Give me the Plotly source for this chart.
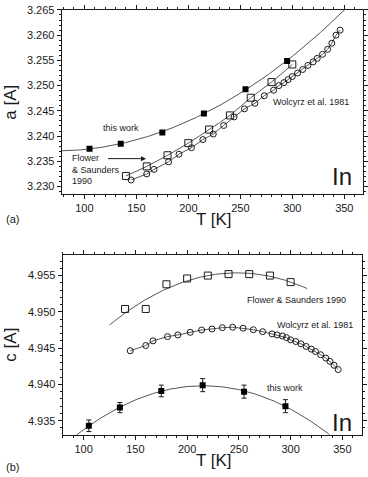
import numpy as np
import plotly.graph_objects as go

# ---------------- data ----------------
tw_T = [105, 135, 175, 215, 255, 295]
tw_a = [3.2375, 3.2385, 3.2407, 3.2445, 3.2493, 3.2549]
tw_c = [4.9343, 4.9368, 4.9391, 4.9399, 4.9390, 4.9370]
tw_c_err = [0.0008, 0.0007, 0.0008, 0.0009, 0.0009, 0.0009]

fs_T = [140, 160, 180, 200, 220, 240, 260, 280, 300]
fs_a = [3.2321, 3.2340, 3.2362, 3.2386, 3.2413, 3.2441, 3.2476, 3.2507, 3.2542]
fs_c = [4.9504, 4.9504, 4.9538, 4.9546, 4.9550, 4.9552, 4.9552, 4.9550, 4.9541]

wo_T = [145, 160, 167, 181, 191, 203, 214, 224, 234, 244, 254, 264, 273, 282,
        287, 292, 296, 300, 305, 310, 315, 320, 324, 329, 334, 338, 342, 346]
wo_a = [3.2313, 3.2325, 3.2334, 3.2349, 3.2364, 3.2377, 3.2393, 3.2404, 3.2421,
        3.2438, 3.2454, 3.2465, 3.2480, 3.2491, 3.2500, 3.2506, 3.2512, 3.2518,
        3.2525, 3.2532, 3.2540, 3.2547, 3.2554, 3.2562, 3.2572, 3.2584, 3.2600, 3.2610]
wo_c = [4.94464, 4.94536, 4.94600, 4.94659, 4.94682, 4.94718, 4.94750, 4.94764,
        4.94782, 4.94788, 4.94775, 4.94754, 4.94727, 4.94696, 4.94682, 4.94668,
        4.94645, 4.94614, 4.94591, 4.94559, 4.94523, 4.94486, 4.94454, 4.94409,
        4.94363, 4.94318, 4.94264, 4.94205]

x_ticks = [100, 150, 200, 250, 300, 350]
a_ticks = [3.230, 3.235, 3.240, 3.245, 3.250, 3.255, 3.260, 3.265]
c_ticks = [4.935, 4.940, 4.945, 4.950, 4.955]

# ---------------- fits ----------------
p_tw_a = np.polyfit(tw_T, tw_a, 2)
T_fit_a = np.linspace(75, 360, 200)
p_tw_c = np.polyfit(tw_T, tw_c, 2)
T_fit_c = np.linspace(80, 350, 200)
p_fs_c = np.polyfit(fs_T, fs_c, 2)
T_fit_fs = np.linspace(125, 316, 120)

INK = "#1a1a1a"
LINE = "#555555"
FONT = "Liberation Sans, Arial, sans-serif"

fig = go.Figure()

# ---- panel (a) ----
fig.add_trace(go.Scatter(x=T_fit_a, y=np.polyval(p_tw_a, T_fit_a), mode="lines",
                         line=dict(color=LINE, width=1), xaxis="x", yaxis="y", showlegend=False))
fig.add_trace(go.Scatter(x=fs_T, y=fs_a, mode="lines+markers", line=dict(color=LINE, width=1, shape="spline"),
                         marker=dict(symbol="square-open", size=7, color=INK, line=dict(width=1)),
                         xaxis="x", yaxis="y", showlegend=False))
fig.add_trace(go.Scatter(x=wo_T, y=wo_a, mode="lines+markers", line=dict(color=LINE, width=1),
                         marker=dict(symbol="circle-open", size=6, color=INK, line=dict(width=1)),
                         xaxis="x", yaxis="y", showlegend=False))
fig.add_trace(go.Scatter(x=tw_T, y=tw_a, mode="markers",
                         marker=dict(symbol="square", size=6, color="black"),
                         xaxis="x", yaxis="y", showlegend=False))

# ---- panel (b) ----
fig.add_trace(go.Scatter(x=T_fit_c, y=np.polyval(p_tw_c, T_fit_c), mode="lines",
                         line=dict(color=LINE, width=1), xaxis="x2", yaxis="y2", showlegend=False))
fig.add_trace(go.Scatter(x=T_fit_fs, y=np.polyval(p_fs_c, T_fit_fs), mode="lines",
                         line=dict(color=LINE, width=1), xaxis="x2", yaxis="y2", showlegend=False))
fig.add_trace(go.Scatter(x=fs_T, y=fs_c, mode="markers",
                         marker=dict(symbol="square-open", size=7, color=INK, line=dict(width=1)),
                         xaxis="x2", yaxis="y2", showlegend=False))
fig.add_trace(go.Scatter(x=wo_T, y=wo_c, mode="lines+markers", line=dict(color=LINE, width=1),
                         marker=dict(symbol="circle-open", size=6, color=INK, line=dict(width=1)),
                         xaxis="x2", yaxis="y2", showlegend=False))
fig.add_trace(go.Scatter(x=tw_T, y=tw_c, mode="markers",
                         error_y=dict(type="data", array=tw_c_err, color=INK, thickness=1, width=2.5),
                         marker=dict(symbol="square", size=6, color="black"),
                         xaxis="x2", yaxis="y2", showlegend=False))

W, H = 368, 477
def px(x):
    return x / W
def py(y):
    return 1 - y / H

axis_common = dict(showline=True, linecolor=INK, linewidth=1, mirror="allticks",
                   ticks="outside", ticklen=4, tickwidth=1, tickcolor=INK,
                   showgrid=False, zeroline=False, ticklabeloverflow="allow",
                   tickfont=dict(family=FONT, size=11, color=INK))

fig.update_layout(
    width=W, height=H, margin=dict(l=0, r=0, t=0, b=0),
    paper_bgcolor="white", plot_bgcolor="white",
    xaxis=dict(domain=[px(62), px(365)], range=[78.2, 368], anchor="y",
               tickvals=x_ticks, **axis_common,
               minor=dict(ticks="outside", ticklen=2, tickcolor=INK, dtick=10)),
    yaxis=dict(domain=[py(190), py(4)], range=[3.2286, 3.265], anchor="x",
               tickvals=a_ticks, tickformat=".3f", **axis_common,
               minor=dict(ticks="outside", ticklen=2, tickcolor=INK, dtick=0.001, tick0=3.23)),
    xaxis2=dict(domain=[px(63), px(364)], range=[79.7, 369], anchor="y2",
                tickvals=x_ticks, **axis_common,
                minor=dict(ticks="outside", ticklen=2, tickcolor=INK, dtick=10)),
    yaxis2=dict(domain=[py(434.3), py(251.7)], range=[4.93305, 4.9579], anchor="x2",
                tickvals=c_ticks, tickformat=".3f", **axis_common,
                minor=dict(ticks="outside", ticklen=2, tickcolor=INK, dtick=0.001, tick0=4.935)),
)

ann = []
def txt(x, y, s, size, xref="x", yref="y", xanchor="center", align="center"):
    ann.append(dict(x=x, y=y, xref=xref, yref=yref, text=s, showarrow=False,
                    xanchor=xanchor, yanchor="middle", align=align,
                    font=dict(family=FONT, size=size, color=INK)))

# panel (a) texts
txt(135.3, 3.24161, "this work", 9)
txt(85.8, 3.23329, "Flower<br>& Saunders<br>1990", 9, xanchor="left", align="left")
txt(318.4, 3.24676, "Wolcyrz et al. 1981", 9)
txt(348, 3.23206, "In", 24)
ann.append(dict(x=159.3, y=3.23553, ax=121.3, ay=3.23553, xref="x", yref="y",
                axref="x", ayref="y", showarrow=True, arrowhead=2, arrowsize=1,
                arrowwidth=1, arrowcolor=INK, text=""))
# panel (b) texts
txt(305.9, 4.95159, "Flower & Saunders 1990", 9, xref="x2", yref="y2")
txt(323.2, 4.94818, "Wolcyrz et al. 1981", 9, xref="x2", yref="y2")
txt(295, 4.93954, "this work", 9, xref="x2", yref="y2")
txt(349.7, 4.93477, "In", 24, xref="x2", yref="y2")

# axis titles and panel labels (paper coords)
txt(px(215), py(216.5), "T [K]", 17, xref="paper", yref="paper")
txt(px(215), py(460), "T [K]", 17, xref="paper", yref="paper")
txt(px(13), py(216), "(a)", 11, xref="paper", yref="paper")
txt(px(13), py(466.5), "(b)", 11, xref="paper", yref="paper")
for yy, s in [(97, "a [A]"), (343, "c [A]")]:
    ann.append(dict(x=px(11), y=py(yy), xref="paper", yref="paper", text=s, showarrow=False,
                    textangle=-90, xanchor="center", yanchor="middle",
                    font=dict(family=FONT, size=17, color=INK)))

fig.update_layout(annotations=ann)
fig.write_html("out.html")
